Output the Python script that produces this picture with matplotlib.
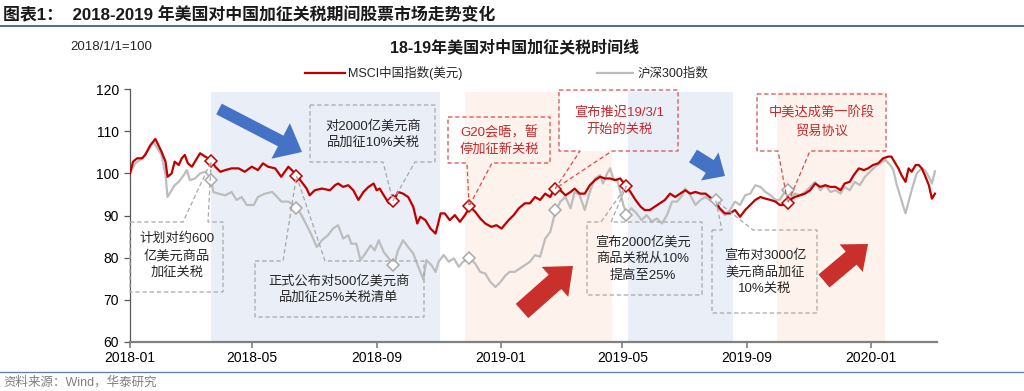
import matplotlib

matplotlib.use("Agg")
import matplotlib.dates as mdates
import matplotlib.pyplot as plt
import numpy as np
import pandas as pd
from matplotlib.patches import FancyArrow, Polygon, Rectangle

W, H = 1024, 391
BASE = pd.Timestamp("2018-01-01")
CJK = ["Liberation Sans", "Noto Sans CJK SC"]

# days since 2018-01-01, index 2018/1/1 = 100
red_days = [0, 3, 7, 12, 15, 20, 25, 28, 31, 35, 37, 41, 44, 48, 51, 54, 57, 61, 66, 69,
            74, 80, 84, 89, 94, 100, 107, 113, 120, 126, 131, 136, 143, 149, 156, 161, 164,
            169, 174, 177, 182, 189, 197, 202, 205, 210, 215, 220, 225, 230, 235, 240, 243,
            246, 250, 255, 260, 264, 269, 274, 279, 283, 286, 291, 296, 301, 304, 306, 310,
            315, 320, 325, 330, 335, 340, 345, 350, 356, 361, 366, 373, 378, 383, 389, 394,
            399, 404, 409, 414, 419, 424, 429, 434, 438, 443, 448, 453, 458, 463, 468, 473,
            478, 483, 488, 493, 498, 503, 507, 512, 517, 522, 527, 532, 537, 542, 547, 552,
            557, 562, 567, 571, 576, 581, 586, 591, 596, 601, 606, 611, 616, 621, 626, 631,
            636, 640, 645, 650, 655, 660, 665, 670, 675, 680, 685, 690, 695, 700, 704, 709,
            713, 718, 723, 727, 732, 737, 742, 747, 750, 754, 757, 760, 764, 767, 770, 774,
            777, 780, 783, 787, 790, 793]
red_vals = [100.0, 102.8, 103.6, 103.6, 104.4, 106.7, 108.2, 106.7, 105.2, 102.8, 99.2, 100.0,
            102.8, 102.0, 103.6, 104.4, 102.4, 101.6, 103.6, 104.8, 104.0, 103.2, 101.6, 100.4,
            100.8, 101.2, 101.2, 100.4, 101.6, 100.8, 102.4, 101.6, 101.2, 99.2, 101.6, 100.4,
            99.6, 98.0, 96.4, 94.8, 96.0, 96.4, 96.0, 97.2, 97.6, 96.8, 97.2, 96.0, 93.7, 95.6,
            96.8, 97.6, 96.0, 96.4, 94.8, 92.9, 93.6, 95.6, 95.2, 94.4, 92.1, 88.1, 89.7, 88.9,
            86.9, 85.7, 88.5, 90.5, 90.5, 88.9, 90.1, 88.5, 90.1, 92.1, 90.9, 89.3, 88.1, 87.3,
            87.7, 86.9, 88.9, 90.1, 91.7, 92.9, 92.9, 94.4, 93.7, 95.2, 94.4, 96.8, 96.0, 94.8,
            95.6, 96.4, 95.2, 95.2, 97.2, 98.4, 99.2, 98.8, 98.8, 98.4, 98.8, 97.2, 95.6, 93.7,
            92.1, 91.3, 91.3, 92.1, 92.9, 93.7, 95.2, 94.4, 95.2, 96.0, 95.2, 95.6, 95.2, 95.2,
            94.4, 93.7, 91.7, 90.5, 90.5, 91.3, 89.7, 91.3, 92.5, 93.7, 94.4, 94.0, 93.7, 93.3,
            92.5, 92.5, 93.7, 94.4, 94.8, 95.2, 96.0, 97.6, 96.8, 97.2, 96.8, 96.8, 96.0, 97.6,
            98.0, 99.6, 101.2, 100.8, 101.2, 102.0, 102.4, 103.6, 104.0, 104.0, 102.4, 101.2,
            99.6, 98.0, 101.2, 100.4, 102.0, 102.0, 101.2, 99.6, 97.2, 94.0, 95.2]

gray_days = [0, 5, 12, 18, 23, 28, 31, 35, 37, 41, 44, 48, 53, 56, 59, 64, 69, 74, 80, 82, 87,
             94, 100, 105, 110, 115, 122, 126, 133, 140, 145, 149, 156, 161, 164, 169, 174, 179,
             184, 189, 195, 200, 205, 210, 215, 218, 223, 227, 232, 237, 241, 245, 250, 255, 260,
             264, 269, 274, 279, 284, 289, 292, 297, 301, 304, 309, 314, 319, 324, 328, 335, 340,
             345, 350, 355, 360, 365, 370, 374, 379, 384, 389, 394, 399, 404, 409, 414, 419, 424,
             429, 434, 438, 443, 448, 453, 458, 463, 466, 470, 473, 476, 480, 483, 486, 489, 494,
             499, 504, 509, 514, 519, 524, 529, 534, 539, 544, 547, 552, 557, 562, 567, 571, 576,
             581, 586, 591, 596, 601, 606, 611, 616, 621, 626, 631, 636, 640, 645, 650, 655, 660,
             665, 670, 675, 680, 685, 690, 695, 700, 704, 709, 714, 719, 724, 729, 734, 739, 744,
             749, 752, 755, 759, 764, 767, 770, 775, 780, 783, 787, 790, 793]
gray_vals = [100.0, 102.4, 103.6, 105.6, 107.5, 105.6, 104.4, 99.6, 94.4, 96.0, 97.2, 98.0, 99.6,
             100.8, 98.4, 98.8, 100.0, 100.4, 98.8, 95.6, 95.2, 94.8, 95.6, 93.7, 94.4, 92.5,
             92.5, 94.4, 95.2, 95.6, 94.4, 93.3, 93.3, 92.5, 92.1, 90.0, 87.7, 85.3, 82.5, 84.1,
             85.3, 86.9, 87.7, 84.5, 85.3, 83.3, 83.3, 79.4, 81.0, 82.9, 81.7, 84.1, 81.3, 79.8,
             78.2, 81.7, 84.1, 82.5, 81.0, 77.8, 74.8, 79.4, 78.2, 76.6, 79.0, 80.6, 79.0, 79.8,
             77.8, 79.0, 79.8, 78.6, 76.6, 76.2, 74.2, 73.0, 74.2, 75.8, 76.6, 76.6, 77.4, 78.2,
             79.0, 80.6, 80.2, 84.5, 86.1, 90.9, 93.3, 94.4, 91.7, 95.6, 94.8, 91.3, 95.6, 98.8,
             99.6, 97.6, 100.0, 101.2, 98.8, 98.4, 95.6, 92.5, 90.5, 91.7, 90.5, 88.9, 90.1,
             88.5, 89.3, 88.1, 90.1, 93.3, 93.3, 94.8, 96.4, 94.8, 92.5, 93.7, 94.4, 93.7, 92.9,
             91.3, 90.1, 91.3, 93.3, 92.5, 94.8, 95.2, 97.2, 96.8, 95.6, 94.8, 93.7, 93.7, 95.6,
             94.0, 95.2, 94.8, 95.6, 96.8, 98.0, 96.0, 97.2, 95.6, 96.0, 95.2, 96.8, 96.0, 98.0,
             97.2, 99.2, 100.4, 101.6, 102.4, 103.2, 102.0, 100.8, 97.6, 94.4, 90.5, 93.3, 96.0,
             100.0, 101.2, 100.8, 99.2, 97.6, 100.5]

event_dates = ["2018-03-22", "2018-06-14", "2018-09-17", "2018-12-01",
               "2019-02-24", "2019-05-05", "2019-08-01", "2019-10-11"]
event_red = [102.9, 99.4, 93.5, 92.2, 96.4, 97.0, np.nan, 93.0]
event_gray = [98.4, 91.8, 78.2, 79.8, 91.3, 90.1, 93.6, 96.0]

blue_periods = [("2018-03-22", "2018-11-02"), ("2019-05-07", "2019-08-18")]
orange_periods = [("2018-11-27", "2019-04-21"), ("2019-09-30", "2020-01-15")]

y_ticks = [60, 70, 80, 90, 100, 110, 120]
x_ticks = ["2018-01-01", "2018-05-01", "2018-09-01", "2019-01-01",
           "2019-05-01", "2019-09-01", "2020-01-01"]
x_labels = ["2018-01", "2018-05", "2018-09", "2019-01", "2019-05", "2019-09", "2020-01"]

RED = "#C00000"
GRAY = "#BDBDBD"
BOX_GRAY = "#A8A8A8"
BOX_RED = "#DD4B4B"
TXT_RED = "#C8282A"


def to_dates(days: list[int]) -> pd.DatetimeIndex:
    return BASE + pd.to_timedelta(days, unit="D")


def data_to_px(ax, ov, date: str, value: float) -> tuple[float, float]:
    disp = ax.transData.transform((mdates.date2num(pd.Timestamp(date)), value))
    return tuple(ov.transData.inverted().transform(disp))


def callout(ov, box, base, apex, color, lines, text_color, center, size=9.5):
    x0, y0, x1, y1 = box
    b1, b2, side = base
    ax_, ay_ = apex
    if side == "top":
        pts = [(x0, y0), (b1, y0), (ax_, ay_), (b2, y0), (x1, y0), (x1, y1), (x0, y1)]
    else:
        pts = [(x0, y0), (x1, y0), (x1, y1), (b2, y1), (ax_, ay_), (b1, y1), (x0, y1)]
    ov.add_patch(Polygon(pts, closed=True, fill=False, edgecolor=color,
                         linewidth=0.9, linestyle=(0, (3.5, 2.2))))
    cx, cy = center
    ov.text(cx, cy, "\n".join(lines), ha="center", va="center", fontsize=size,
            color=text_color, family=CJK, linespacing=1.45)


def main() -> None:
    plt.rcParams["font.family"] = CJK
    fig = plt.figure(figsize=(W / 100, H / 100), dpi=100)
    ax = fig.add_axes([130 / W, 1 - 341.7 / H, 807 / W, 252.4 / H])
    ov = fig.add_axes([0, 0, 1, 1], zorder=5)
    ov.set_xlim(0, W)
    ov.set_ylim(H, 0)
    ov.axis("off")

    ax.set_xlim(BASE, BASE + pd.Timedelta(days=795))
    ax.set_ylim(60, 120)

    for start, end in orange_periods:
        ax.axvspan(pd.Timestamp(start), pd.Timestamp(end), ymax=0.99,
                   color="#FDF3EC", lw=0, zorder=0.5)
    # white fill behind the "推迟" box
    ax.add_patch(Rectangle((559, 90), 119, 61, transform=ov.transData,
                           facecolor="white", edgecolor="none", zorder=0.6))
    for start, end in blue_periods:
        ax.axvspan(pd.Timestamp(start), pd.Timestamp(end), ymax=0.99,
                   color="#E9EEF7", lw=0, zorder=0.7)

    ax.plot(to_dates(gray_days), gray_vals, color=GRAY, lw=1.6, zorder=2)
    ax.plot(to_dates(red_days), red_vals, color=RED, lw=1.6, zorder=3)

    ev = pd.to_datetime(event_dates)
    ax.plot(ev, event_gray, ls="none", marker="D", ms=6, mfc="white",
            mec="#A8A8A8", mew=1.1, zorder=4)
    ax.plot(ev, event_red, ls="none", marker="D", ms=6, mfc="white",
            mec=RED, mew=1.1, zorder=4)

    for side in ["top", "right"]:
        ax.spines[side].set_visible(False)
    ax.spines["left"].set_color("#595959")
    ax.spines["left"].set_linewidth(0.9)
    ax.spines["bottom"].set_color("#808080")
    ax.spines["bottom"].set_linewidth(1.6)
    ax.set_yticks(y_ticks)
    ax.set_xticks(pd.to_datetime(x_ticks))
    ax.set_xticklabels(x_labels)
    ax.tick_params(axis="y", length=4, width=0.9, color="#595959", labelsize=10, pad=4)
    ax.tick_params(axis="x", length=4, width=1.2, color="#808080", labelsize=10, pad=3)

    # event callouts
    p = [data_to_px(ax, ov, d, v) for d, v in zip(event_dates, event_red)]
    g = [data_to_px(ax, ov, d, v) for d, v in zip(event_dates, event_gray)]
    callout(ov, (130, 222, 223, 292), (183, 208, "top"), p[0], BOX_GRAY,
            ["计划对约600", "亿美元商品", "加征关税"], "#262626", (177, 256))
    callout(ov, (255, 261, 424, 317), (283, 325, "top"), p[1], BOX_GRAY,
            ["正式公布对500亿美元商", "品加征25%关税清单"], "#262626", (339, 289))
    callout(ov, (310, 105, 435, 162), (383, 415, "bottom"), p[2], BOX_GRAY,
            ["对2000亿美元商", "品加征10%关税"], "#262626", (373, 134))
    callout(ov, (587, 222, 702, 295), (601, 611, "top"), p[5], BOX_GRAY,
            ["宣布2000亿美元", "商品关税从10%", "提高至25%"], "#262626", (643, 259))
    callout(ov, (712, 230, 817, 313), (722, 753, "top"), g[6], BOX_GRAY,
            ["宣布对3000亿", "美元商品加征", "10%关税"], "#262626", (765, 272))
    callout(ov, (448, 117, 550, 163), (467, 492, "bottom"), p[3], BOX_RED,
            ["G20会晤，暂", "停加征新关税"], TXT_RED, (499, 141))
    callout(ov, (559, 90, 678, 151), (580, 612, "bottom"), p[4], BOX_RED,
            ["宣布推迟19/3/1", "开始的关税"], TXT_RED, (619, 121))
    callout(ov, (757, 94, 886, 151), (778, 810, "bottom"), p[7], BOX_RED,
            ["中美达成第一阶段", "贸易协议"], TXT_RED, (822, 122))

    # trend arrows
    arrows = [
        ((219, 109), (302, 152), 12, 40, 24, "#4472C4"),
        ((693, 156), (725, 176), 15, 33, 18, "#4472C4"),
        ((522, 311), (573, 266), 19, 40, 24, "#C9302C"),
        ((824, 281), (868, 244), 17, 36, 22, "#C9302C"),
    ]
    for (tx, ty), (hx, hy), w, hw, hl, c in arrows:
        ov.add_patch(FancyArrow(tx, ty, hx - tx, hy - ty, width=w, head_width=hw,
                                head_length=hl, length_includes_head=True,
                                color=c, lw=0))

    # titles, legend, source
    ov.text(3, 15, "图表1：  2018-2019 年美国对中国加征关税期间股票市场走势变化",
            fontsize=12.2, fontweight="bold", va="center", color="#1A1A1A")
    ov.plot([0, W], [26, 26], color="#2F4F8F", lw=1.2)
    ov.text(70, 47, "2018/1/1=100", fontsize=9.5, va="center", color="#262626")
    ov.text(515, 47, "18-19年美国对中国加征关税时间线", fontsize=11.5,
            fontweight="bold", ha="center", va="center", color="#1A1A1A")
    ov.plot([305, 345], [73, 73], color=RED, lw=1.6)
    ov.text(348, 73, "MSCI中国指数(美元)", fontsize=9, va="center", color="#262626")
    ov.plot([597, 633], [73, 73], color=GRAY, lw=1.6)
    ov.text(638, 73, "沪深300指数", fontsize=9, va="center", color="#262626")
    ov.plot([0, W], [372, 372], color="#5B7BB0", lw=0.9)
    ov.text(3, 382, "资料来源：Wind，华泰研究", fontsize=9, va="center", color="#808080")

    fig.savefig("out.png", dpi=100)
    plt.close(fig)


if __name__ == "__main__":
    main()
